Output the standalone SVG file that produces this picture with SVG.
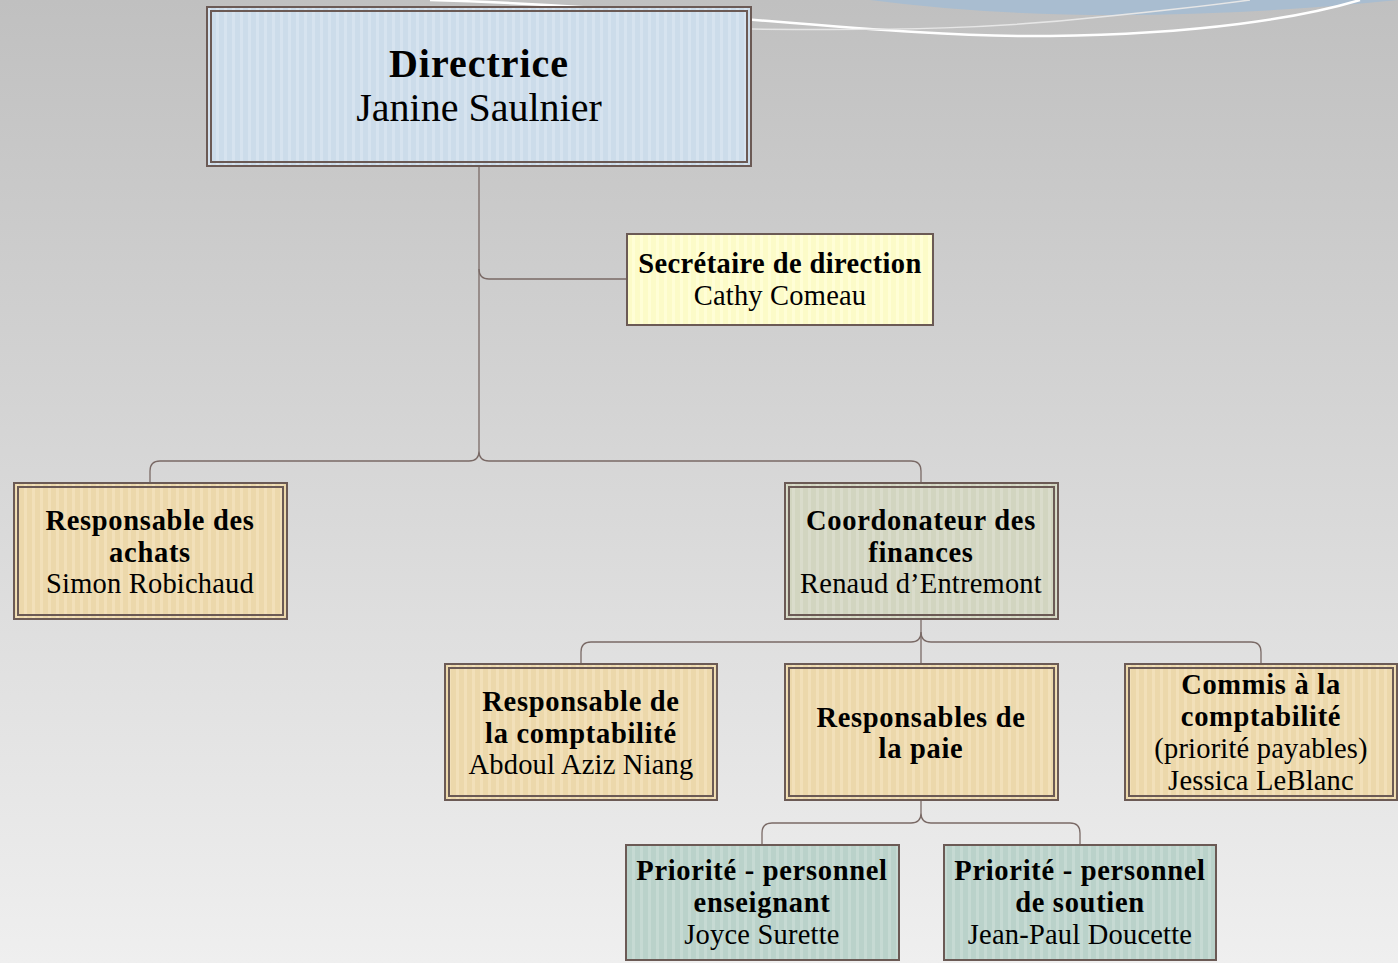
<svg xmlns="http://www.w3.org/2000/svg" width="1398" height="963" viewBox="0 0 1398 963">
<defs>
<linearGradient id="bg" x1="0" y1="0" x2="0" y2="1">
<stop offset="0" stop-color="#c0c0c0"/>
<stop offset="1" stop-color="#efefef"/>
</linearGradient>
<pattern id="pBlue" width="8" height="10" patternUnits="userSpaceOnUse">
<rect width="8" height="10" fill="#ccdcea"/><rect x="0" width="3" height="10" fill="#d6e3ef"/>
</pattern>
<pattern id="pTan" width="8" height="10" patternUnits="userSpaceOnUse">
<rect width="8" height="10" fill="#ecd8ab"/><rect x="0" width="3" height="10" fill="#f2e0b9"/>
</pattern>
<pattern id="pSage" width="8" height="10" patternUnits="userSpaceOnUse">
<rect width="8" height="10" fill="#d2d5c0"/><rect x="0" width="3" height="10" fill="#dadccb"/>
</pattern>
<pattern id="pYellow" width="8" height="10" patternUnits="userSpaceOnUse">
<rect width="8" height="10" fill="#fcfbc8"/><rect x="0" width="3" height="10" fill="#fffed6"/>
</pattern>
<pattern id="pTeal" width="8" height="10" patternUnits="userSpaceOnUse">
<rect width="8" height="10" fill="#bad2ca"/><rect x="0" width="3" height="10" fill="#c6dad3"/>
</pattern>
</defs>
<style>
.o{stroke:#6b5a55;stroke-width:2}
.i{fill:none;stroke:#6b5a55;stroke-width:2}
.c{fill:none;stroke:#7a6a66;stroke-width:1.3}
text{font-family:"Liberation Serif","Times New Roman",serif;fill:#000;text-anchor:middle}
.b{font-weight:bold;font-size:28.5px;letter-spacing:0.7px}
.n{font-size:28.5px;letter-spacing:0.2px}
.tb{font-weight:bold;font-size:40px;letter-spacing:1px}
.tn{font-size:40px}
</style>
<rect width="1398" height="963" fill="url(#bg)"/>
<g id="decor">
<path d="M870,0 Q1100,30 1398,0 Z" fill="#a9bdd0"/>
<path d="M430,0 C700,8 880,38 1050,36 C1200,34 1300,18 1360,0" fill="none" stroke="#ffffff" stroke-width="2.5"/>
<path d="M752,29 C900,31 1000,28 1100,17 C1170,10 1220,4 1250,0" fill="none" stroke="#e6e6e6" stroke-width="1.5"/>
</g>
<g id="connectors">
<path class="c" d="M479,166 V451"/>
<path class="c" d="M479,269 Q479,279 489,279 H627"/>
<path class="c" d="M150,483 V471 Q150,461 160,461 H469 Q479,461 479,451 Q479,461 489,461 H911 Q921,461 921,471 V483"/>
<path class="c" d="M921,619 V664"/>
<path class="c" d="M581,664 V652 Q581,642 591,642 H911 Q921,642 921,632 Q921,642 931,642 H1251 Q1261,642 1261,652 V664"/>
<path class="c" d="M921,800 V813"/>
<path class="c" d="M762,845 V833 Q762,823 772,823 H911 Q921,823 921,813 Q921,823 931,823 H1070 Q1080,823 1080,833 V845"/>
</g>
<g id="directrice">
<rect class="o" x="207" y="7" width="544" height="159" fill="url(#pBlue)"/>
<rect class="i" x="211" y="11" width="536" height="151"/>
<text class="tb" x="479" y="77">Directrice</text>
<text class="tn" x="479" y="121">Janine Saulnier</text>
</g>
<g id="secretaire">
<rect class="o" x="627" y="234" width="306" height="91" fill="url(#pYellow)"/>
<text class="b" x="780" y="273" style="letter-spacing:0.4px">Secrétaire de direction</text>
<text class="n" x="780" y="305">Cathy Comeau</text>
</g>
<g id="achats">
<rect class="o" x="14" y="483" width="273" height="136" fill="url(#pTan)"/>
<rect class="i" x="18" y="487" width="265" height="128"/>
<text class="b" x="150" y="530">Responsable des</text>
<text class="b" x="150" y="562">achats</text>
<text class="n" x="150" y="593">Simon Robichaud</text>
</g>
<g id="coordonateur">
<rect class="o" x="785" y="483" width="273" height="136" fill="url(#pSage)"/>
<rect class="i" x="789" y="487" width="265" height="128"/>
<text class="b" x="921" y="530">Coordonateur des</text>
<text class="b" x="921" y="562">finances</text>
<text class="n" x="921" y="593">Renaud d’Entremont</text>
</g>
<g id="comptabilite">
<rect class="o" x="445" y="664" width="272" height="136" fill="url(#pTan)"/>
<rect class="i" x="449" y="668" width="264" height="128"/>
<text class="b" x="581" y="711">Responsable de</text>
<text class="b" x="581" y="743">la comptabilité</text>
<text class="n" x="581" y="774">Abdoul Aziz Niang</text>
</g>
<g id="paie">
<rect class="o" x="785" y="664" width="273" height="136" fill="url(#pTan)"/>
<rect class="i" x="789" y="668" width="265" height="128"/>
<text class="b" x="921" y="727">Responsables de</text>
<text class="b" x="921" y="758">la paie</text>
</g>
<g id="commis">
<rect class="o" x="1125" y="664" width="272" height="136" fill="url(#pTan)"/>
<rect class="i" x="1129" y="668" width="264" height="128"/>
<text class="b" x="1261" y="694">Commis à la</text>
<text class="b" x="1261" y="726">comptabilité</text>
<text class="n" x="1261" y="758">(priorité payables)</text>
<text class="n" x="1261" y="790">Jessica LeBlanc</text>
</g>
<g id="enseignant">
<rect class="o" x="626" y="845" width="273" height="115" fill="url(#pTeal)"/>
<text class="b" x="762" y="880">Priorité - personnel</text>
<text class="b" x="762" y="912">enseignant</text>
<text class="n" x="762" y="944">Joyce Surette</text>
</g>
<g id="soutien">
<rect class="o" x="944" y="845" width="272" height="115" fill="url(#pTeal)"/>
<text class="b" x="1080" y="880">Priorité - personnel</text>
<text class="b" x="1080" y="912">de soutien</text>
<text class="n" x="1080" y="944">Jean-Paul Doucette</text>
</g>
</svg>
